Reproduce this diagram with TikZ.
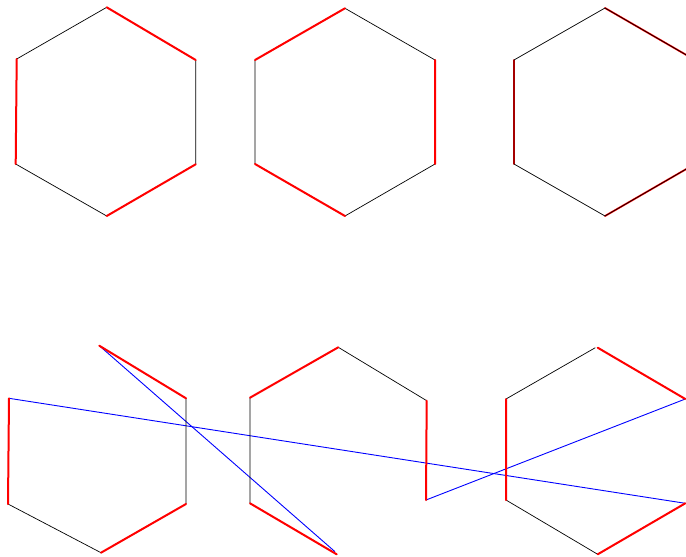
\documentclass[tikz,border=0pt]{standalone}
\begin{document}
\begin{tikzpicture}[x=1pt,y=-1pt,
  edge/.style={black,line width=0.7pt},
  redge/.style={red,line width=2pt,line cap=round},
  bedge/.style={blue,line width=0.9pt}]
\useasboundingbox (0,0) rectangle (686,557);
\clip (0,0) rectangle (686,557);
% ---------- top row ----------
% hexagon 1
\coordinate (a1) at (106.7,7.3);
\coordinate (a2) at (195.7,60);
\coordinate (a3) at (195.7,164.3);
\coordinate (a4) at (106.7,216);
\coordinate (a5) at (15.7,164);
\coordinate (a6) at (16.7,59);
\draw[edge] (a2) -- (a3) (a4) -- (a5) (a6) -- (a1);
\draw[redge] (a1) -- (a2) (a3) -- (a4) (a5) -- (a6);
% hexagon 2
\coordinate (b1) at (345,8.3);
\coordinate (b2) at (435,60);
\coordinate (b3) at (435,164);
\coordinate (b4) at (345,216);
\coordinate (b5) at (255,164);
\coordinate (b6) at (255,60);
\draw[edge] (b1) -- (b2) (b3) -- (b4) (b5) -- (b6);
\draw[redge] (b6) -- (b1) (b2) -- (b3) (b4) -- (b5);
% hexagon 3
\coordinate (c1) at (605,8);
\coordinate (c2) at (695,60);
\coordinate (c3) at (695,164);
\coordinate (c4) at (605,216);
\coordinate (c5) at (514,164);
\coordinate (c6) at (514,60);
\draw[redge,line width=1.8pt] (c1) -- (c2) (c3) -- (c4) (c5) -- (c6);
\draw[edge] (c1) -- (c2) -- (c3) -- (c4) -- (c5) -- (c6) -- cycle;
% ---------- bottom row ----------
% hexagon 4
\coordinate (d1) at (99.3,345.7);
\coordinate (d2) at (186,398.3);
\coordinate (d3) at (186,504);
\coordinate (d4) at (101,552.7);
\coordinate (d5) at (8,504);
\coordinate (d6) at (9,398.3);
% hexagon 5
\coordinate (e1) at (338.3,347.3);
\coordinate (e2) at (426.7,400.7);
\coordinate (e3) at (426,500);
\coordinate (e4) at (336.7,554.3);
\coordinate (e5) at (250,503.3);
\coordinate (e6) at (250,397.7);
% hexagon 6
\coordinate (f0) at (595.3,347.7);
\coordinate (f1) at (597.7,347.7);
\coordinate (f2) at (685.3,399);
\coordinate (f3) at (685.3,503.3);
\coordinate (f4) at (597.7,554.3);
\coordinate (f5) at (506,500);
\coordinate (f6) at (506,399);
\coordinate (g1) at (335,551.7);
% blue lines
\draw[bedge] (d1) -- (g1);
\draw[bedge] (d6) -- (f3);
\draw[bedge] (e3) -- (f2);
% black edges
\draw[edge] (d2) -- (d3) (d4) -- (d5);
\draw[edge] (e1) -- (e2) (e5) -- (e6);
\draw[edge] (f6) -- (f0) (f5) -- (f4);
% red edges
\draw[redge] (d1) -- (d2) (d3) -- (d4) (d5) -- (d6);
\draw[redge] (e6) -- (e1) (e2) -- (e3) (e5) -- (e4);
\draw[redge] (f1) -- (f2) (f6) -- (f5) (f4) -- (f3);
\end{tikzpicture}
\end{document}
